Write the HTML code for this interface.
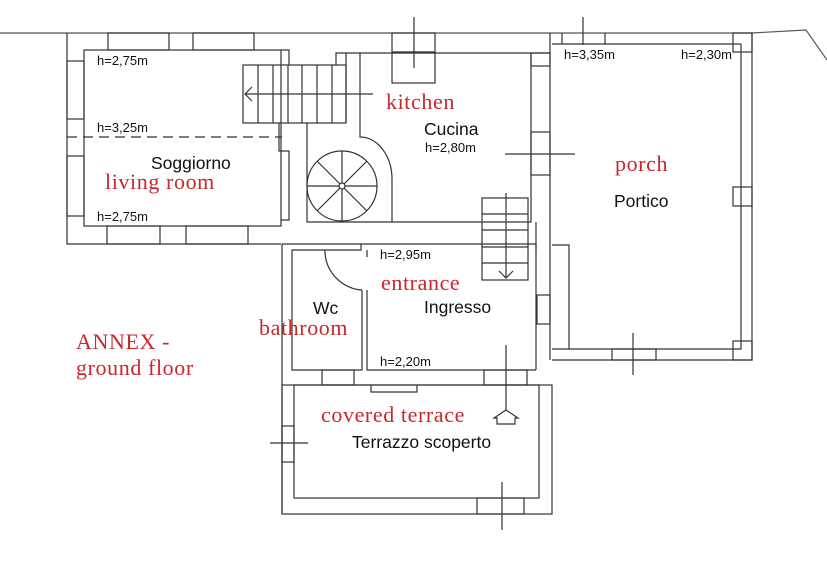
<!DOCTYPE html>
<html><head><meta charset="utf-8"><style>
body{margin:0;background:#fff}
svg{display:block}
.b{font-family:"Liberation Sans",sans-serif;fill:#111}
.r{font-family:"Liberation Serif",serif;fill:#c8282c;font-size:22px;letter-spacing:0.6px}
</style></head><body>
<svg width="827" height="564" viewBox="0 0 827 564" xmlns="http://www.w3.org/2000/svg">
<g fill="none" stroke="#333" stroke-width="1.2">
<polyline points="0,33 752,33 806,30 827,60" stroke="#555"/>
<polyline points="67,33 67,244 281,244"/>
<rect x="84" y="50" width="197" height="176"/>
<rect x="108" y="33" width="61" height="17"/>
<rect x="193" y="33" width="61" height="17"/>
<rect x="67" y="61" width="17" height="58"/>
<rect x="67" y="156" width="17" height="60"/>
<rect x="107" y="226" width="53" height="18"/>
<rect x="186" y="226" width="62" height="18"/>
<polyline points="281,50 289,50 289,65"/>
<polyline points="279,123 279,151 289,151 289,220 281,220"/>
<line x1="67" y1="137" x2="282" y2="137" stroke-dasharray="10,6"/>
<rect x="243" y="65" width="103" height="58"/>
<line x1="258" y1="65" x2="258" y2="123"/><line x1="273" y1="65" x2="273" y2="123"/>
<line x1="288" y1="65" x2="288" y2="123"/><line x1="302" y1="65" x2="302" y2="123"/>
<line x1="317" y1="65" x2="317" y2="123"/><line x1="332" y1="65" x2="332" y2="123"/>
<polyline points="336,65 336,53 550,53"/>
<line x1="346" y1="53" x2="346" y2="123"/>
<line x1="245" y1="94" x2="373" y2="94"/>
<polyline points="252,87 245,94 252,101"/>
<polyline points="307,123 307,222 531,222 531,53"/>
<path d="M360,53 L360,137 A32,42 0 0 1 392,178 L392,222"/>
<circle cx="342" cy="186" r="35"/>
<circle cx="342" cy="186" r="3"/>
<line x1="307" y1="186" x2="339" y2="186"/><line x1="345" y1="186" x2="377" y2="186"/>
<line x1="342" y1="151" x2="342" y2="183"/><line x1="342" y1="189" x2="342" y2="221"/>
<line x1="317" y1="161" x2="340" y2="184"/><line x1="344" y1="188" x2="367" y2="211"/>
<line x1="367" y1="161" x2="344" y2="184"/><line x1="340" y1="188" x2="317" y2="211"/>
<rect x="392" y="33" width="43" height="50"/>
<line x1="392" y1="52" x2="435" y2="52"/>
<line x1="414" y1="17" x2="414" y2="68"/>
<line x1="550" y1="33" x2="550" y2="360"/>
<rect x="531" y="53" width="19" height="13"/>
<rect x="531" y="132" width="19" height="43"/>
<line x1="505" y1="154" x2="575" y2="154"/>
<rect x="482" y="198" width="46" height="82"/>
<line x1="482" y1="214" x2="528" y2="214"/><line x1="482" y1="230" x2="528" y2="230"/>
<line x1="482" y1="247" x2="528" y2="247"/><line x1="482" y1="263" x2="528" y2="263"/>
<line x1="506" y1="193" x2="506" y2="278"/>
<polyline points="499,271 506,278 513,271"/>
<line x1="536" y1="222" x2="536" y2="250"/>
<line x1="552" y1="44" x2="741" y2="44"/>
<polyline points="741,44 741,349 552,349"/>
<polyline points="752,33 752,360 552,360"/>
<rect x="733" y="33" width="19" height="19"/>
<rect x="733" y="341" width="19" height="19"/>
<rect x="733" y="187" width="19" height="19"/>
<rect x="612" y="349" width="44" height="11"/>
<line x1="633" y1="333" x2="633" y2="375"/>
<line x1="562" y1="33" x2="562" y2="44"/><line x1="605" y1="33" x2="605" y2="44"/>
<line x1="583" y1="17" x2="583" y2="45"/>
<polyline points="552,245 569,245 569,349"/>
<polyline points="282,244 536,244 536,370"/>
<line x1="282" y1="244" x2="282" y2="514"/>
<polyline points="361,244 361,250 292,250 292,370 362,370 362,290"/>
<polyline points="367,290 367,370 536,370"/>
<polyline points="367,250 367,257"/>
<path d="M325,253 A40,40 0 0 0 362,290"/>
<line x1="325" y1="250" x2="325" y2="253"/>
<rect x="537" y="295" width="13" height="29"/>
<rect x="282" y="385" width="270" height="129"/>
<rect x="294" y="385" width="245" height="113"/>
<rect x="322" y="370" width="32" height="15"/>
<rect x="484" y="370" width="43" height="15"/>
<polyline points="371,385 371,392 417,392 417,385"/>
<rect x="282" y="426" width="12" height="36"/>
<line x1="270" y1="443" x2="308" y2="443"/>
<rect x="477" y="498" width="47" height="16"/>
<line x1="502" y1="482" x2="502" y2="530"/>
<line x1="506" y1="345" x2="506" y2="410"/>
<polygon points="497,424 497,418 494,418 506,410 518,418 515,418 515,424"/>
</g>
<g class="b" font-size="13">
<text x="97" y="65">h=2,75m</text>
<text x="97" y="132">h=3,25m</text>
<text x="97" y="221">h=2,75m</text>
<text x="425" y="152">h=2,80m</text>
<text x="564" y="59">h=3,35m</text>
<text x="681" y="59">h=2,30m</text>
<text x="380" y="259">h=2,95m</text>
<text x="380" y="366">h=2,20m</text>
</g>
<g class="b" font-size="17.5">
<text x="151" y="169">Soggiorno</text>
<text x="424" y="135">Cucina</text>
<text x="614" y="207">Portico</text>
<text x="313" y="314">Wc</text>
<text x="424" y="313">Ingresso</text>
<text x="352" y="448">Terrazzo scoperto</text>
</g>
<g class="r">
<text x="105" y="189">living room</text>
<text x="386" y="109">kitchen</text>
<text x="615" y="171">porch</text>
<text x="381" y="290">entrance</text>
<text x="259" y="335">bathroom</text>
<text x="321" y="422">covered terrace</text>
<text x="76" y="349">ANNEX -</text>
<text x="76" y="375">ground floor</text>
</g>
</svg>
</body></html>
